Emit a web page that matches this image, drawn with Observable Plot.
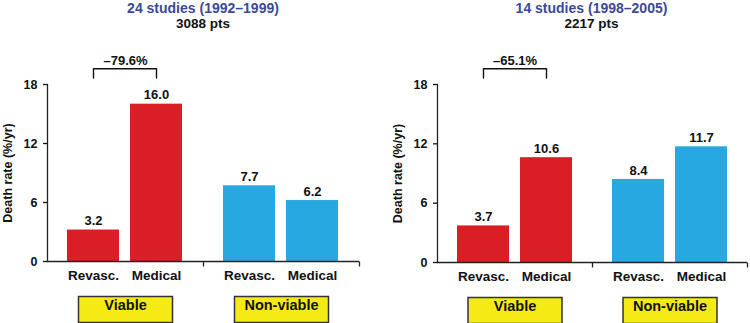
<!DOCTYPE html>
<html><head><meta charset="utf-8">
<script src="https://cdn.jsdelivr.net/npm/d3@7"></script>
<script src="https://cdn.jsdelivr.net/npm/@observablehq/plot@0.6"></script>
<style>
body{margin:0;background:#fff;}
#wrap{display:flex;width:750px;height:323px;overflow:hidden;}
.panel{position:relative;width:375px;height:323px;}
.title{position:absolute;top:1px;text-align:center;font-family:"Liberation Sans",Arial,sans-serif;font-weight:bold;line-height:15px;}
.t1{color:#3b4a98;font-size:14px;}
.t2{color:#111;font-size:13.5px;}
</style></head><body><div id="wrap"></div>
<script>
const groups = ["Viable", "Non-viable"];
const treatments = ["Revasc.", "Medical"];
const panelTitles = ["24 studies (1992–1999)", "14 studies (1998–2005)"];
const panelPatients = ["3088 pts", "2217 pts"];
const deathRates1 = [3.2, 16.0, 7.7, 6.2];
const deathRates2 = [3.7, 10.6, 8.4, 11.7];
const reductions = ["–79.6%", "–65.1%"];
const yTicks = [0, 6, 12, 18];
const yLabel = "Death rate (%/yr)";

const groupColor = {"Viable": "#d91e26", "Non-viable": "#27a8e0"};
const yMax = 18;

const tickSym = {draw(ctx) { ctx.moveTo(0, 0); ctx.lineTo(0, 5); }};
const boxSym = {draw(ctx) { ctx.rect(-47, -13, 94, 26); }};

function panel(i, values, margins) {
  const rows = [];
  groups.forEach((g, gi) => treatments.forEach((t, ti) => rows.push({group: g, treatment: t, value: values[gi * 2 + ti]})));
  const bracket = [
    {x: treatments[0], y: yMax + 0.65},
    {x: treatments[0], y: yMax + 1.6},
    {x: treatments[1], y: yMax + 1.6},
    {x: treatments[1], y: yMax + 0.65}
  ];
  const div = document.createElement("div");
  div.className = "panel";
  const chart = Plot.plot({
    width: 375, height: 323,
    marginLeft: margins.left, marginRight: margins.right, marginTop: 84, marginBottom: margins.bottom,
    style: {fontFamily: "'Liberation Sans', Arial, sans-serif", fontWeight: "bold", color: "#111", background: "#fff"},
    fx: {domain: groups, padding: 0, axis: null},
    x: {domain: treatments, paddingInner: 0.17, paddingOuter: 0.31, axis: null},
    y: {domain: [0, yMax], axis: null},
    marks: [
      Plot.axisX({fontSize: 13.5, fontWeight: "bold", tickSize: 0, tickPadding: 9, label: null}),
      Plot.axisY({ticks: yTicks, tickSize: 4, tickPadding: 6, fontSize: 12.5, fontWeight: "bold", label: yLabel, labelArrow: "none", labelAnchor: "center", labelOffset: 44, strokeWidth: 1.3}),
      Plot.frame({anchor: "left", fx: groups[0], stroke: "#222", strokeWidth: 1.3}),
      Plot.barY(rows, {fx: "group", x: "treatment", y: "value", fill: d => groupColor[d.group]}),
      Plot.ruleY([0], {stroke: "#222", strokeWidth: 1.3}),
      Plot.text(rows, {fx: "group", x: "treatment", y: "value", text: d => d.value.toFixed(1), dy: -9, fontSize: 13}),
      Plot.line(bracket, {fx: () => groups[0], x: "x", y: "y", stroke: "#111", strokeWidth: 1.4}),
      Plot.text([reductions[i]], {fx: () => groups[0], frameAnchor: "top", dy: -24, lineAnchor: "middle", text: d => d, fontSize: 13}),
      Plot.dot(groups, {fx: d => d, frameAnchor: "bottom-right", symbol: tickSym, stroke: "#222", strokeWidth: 1.3, fill: "none"}),
      Plot.dot(groups, {fx: d => d, frameAnchor: "bottom", dy: 48, symbol: boxSym, fill: "#f5eb14", stroke: "#333", strokeWidth: 1.5}),
      Plot.text(groups, {fx: d => d, frameAnchor: "bottom", dy: 48, text: d => d, fontSize: 14.5})
    ]
  });
  div.appendChild(chart);
  const t = document.createElement("div");
  t.className = "title";
  t.style.left = margins.left + "px";
  t.style.width = (375 - margins.left - margins.right) + "px";
  t.innerHTML = `<div class="t1"></div><div class="t2"></div>`;
  t.children[0].textContent = panelTitles[i];
  t.children[1].textContent = panelPatients[i];
  div.appendChild(t);
  return div;
}

const wrap = document.getElementById("wrap");
wrap.appendChild(panel(0, deathRates1, {left: 47, right: 16, bottom: 62}));
wrap.appendChild(panel(1, deathRates2, {left: 61, right: 3, bottom: 61}));
</script>
</body></html>
